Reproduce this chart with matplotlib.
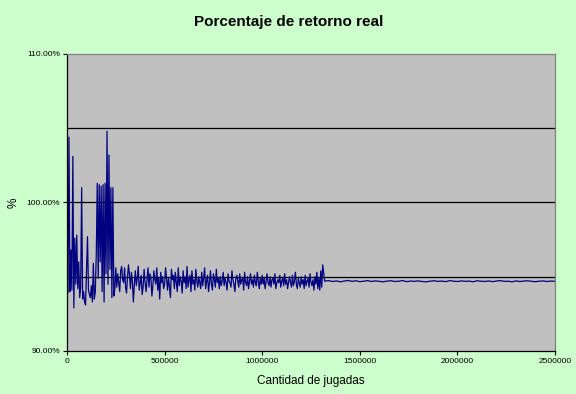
import numpy as np
import matplotlib
matplotlib.use("Agg")
import matplotlib.pyplot as plt
from matplotlib.ticker import FuncFormatter

plt.rcParams['font.family'] = ['Liberation Sans', 'DejaVu Sans']

# Early part: every 5000 plays from 0
early_start, early_step = 0, 5000
early_vals = [98.9, 93.9, 104.4, 94.0, 96.8, 94.1, 103.1, 92.9, 97.6, 94.5,
              97.8, 94.2, 96.0, 93.6, 94.3, 101.0, 93.5, 94.0, 93.3, 93.1,
              95.3, 97.7, 94.1, 93.8, 93.6, 94.4, 93.3, 95.9, 93.5, 94.0,
              96.5, 101.3, 94.9, 101.2, 96.0, 101.1, 94.0, 101.2, 93.3, 101.3,
              95.2, 104.8, 94.5, 103.2, 95.5, 101.0, 93.6, 101.0, 93.7, 94.2,
              95.6, 94.3]

# Middle part: every 5000 plays from 260000
mid_start, mid_step = 260000, 5000
mid_vals = [95.2, 94.6, 94.0, 95.4, 95.7, 94.8, 94.6, 95.6, 94.3, 93.9,
            95.0, 95.8, 95.1, 94.2, 95.3, 94.7, 93.3, 94.5, 95.4, 94.4,
            94.9, 95.7, 94.1, 94.6, 95.1, 93.8, 94.3, 95.5, 94.6, 94.0,
            94.8, 95.6, 94.3, 95.2, 94.9, 93.7, 94.4, 95.4, 94.8, 94.5,
            95.6, 94.1, 94.9, 93.5, 95.3, 94.6, 95.0, 94.2,
            94.5, 95.6, 94.9, 94.1, 94.9, 94.3, 93.6, 95.5, 94.8, 95.1,
            94.2, 95.3, 94.6, 94.0, 95.6, 94.4, 95.0, 94.7, 93.9, 95.4,
            94.6, 95.0, 94.2, 95.7, 94.3, 94.8, 95.1, 94.0, 95.4, 94.5,
            94.8, 94.1, 95.5, 94.7, 94.3, 95.0, 94.6, 94.2, 95.3, 94.4,
            94.9, 95.6, 94.2, 94.7, 95.1, 94.0, 94.6, 95.4, 94.5, 94.1,
            95.2, 94.8, 94.3, 95.5, 94.6, 94.9, 94.2, 95.0, 94.4, 94.7,
            95.3, 94.4, 94.9, 94.6, 94.1, 95.2, 94.7, 94.6, 94.3, 95.4,
            94.8, 94.5, 94.0, 94.9, 95.1, 94.7, 94.3, 95.2, 94.5, 94.8,
            94.9, 94.1, 95.3, 94.6, 94.4, 95.0, 94.2, 94.7, 95.2, 94.5,
            94.8, 94.3, 95.1, 94.6, 94.4, 95.3, 94.7, 94.2, 94.9, 94.5,
            95.1, 94.5, 94.9, 94.2, 94.7, 95.2, 94.6, 94.4, 95.0, 94.3,
            94.8, 94.9, 94.5, 95.2, 94.2, 94.6, 94.8, 94.6, 95.1, 94.3,
            94.7, 94.9, 94.4, 95.2, 94.5, 94.8, 94.2, 94.6, 95.0, 94.6,
            94.3, 95.1, 94.4, 94.7, 95.3, 94.5, 94.2, 94.9, 94.6, 94.3,
            95.0, 94.5, 94.8, 94.2, 95.1, 94.4, 94.7, 94.9, 94.3, 95.2,
            94.6, 94.4, 94.8, 94.1, 95.0, 94.5, 95.3, 94.2, 94.9, 94.1,
            95.4, 94.3, 95.8]

# Late part: every 20000 plays from 1320000
late_start, late_step = 1320000, 20000
late_vals = [94.70, 94.74, 94.68, 94.72, 94.66, 94.71, 94.75, 94.69, 94.73, 94.67,
             94.70, 94.74, 94.68, 94.72, 94.69, 94.66, 94.71, 94.73, 94.68, 94.70,
             94.74, 94.67, 94.71, 94.69, 94.72, 94.68, 94.66, 94.70, 94.73, 94.69,
             94.71, 94.67, 94.74, 94.70, 94.68, 94.72, 94.69, 94.71, 94.66, 94.73,
             94.70, 94.68, 94.72, 94.67, 94.71, 94.74, 94.69, 94.70, 94.66, 94.72,
             94.68, 94.71, 94.73, 94.69, 94.67, 94.70, 94.72, 94.68, 94.71, 94.69]

x_ticks = [0, 500000, 1000000, 1500000, 2000000, 2500000]
y_ticks = [90, 100, 110]
grid_levels = [95, 100, 105]

title = "Porcentaje de retorno real"
xlabel = "Cantidad de jugadas"
ylabel = "%"

x = np.concatenate([
    early_start + early_step * np.arange(len(early_vals)),
    mid_start + mid_step * np.arange(len(mid_vals)),
    late_start + late_step * np.arange(len(late_vals)),
])
y = np.concatenate([early_vals, mid_vals, late_vals])

fig = plt.figure(figsize=(5.76, 3.94), dpi=100)
fig.patch.set_facecolor('#CCFFCC')
ax = fig.add_axes([67/576, 1 - 351/394, (555-67)/576, (351-54)/394])
ax.set_facecolor('#C0C0C0')

for g in grid_levels:
    ax.axhline(g, color='black', lw=0.9, zorder=1)

ax.plot(x, y, color='#000080', lw=0.9, zorder=2)

ax.set_xlim(0, 2500000)
ax.set_ylim(90, 110)
ax.set_xticks(x_ticks)
ax.set_xticklabels([str(t) for t in x_ticks])
ax.set_yticks(y_ticks)
ax.yaxis.set_major_formatter(FuncFormatter(lambda v, p: f"{v:.2f}%"))
ax.tick_params(axis='both', direction='out', length=3, width=0.8,
               labelsize=6, colors='black', pad=2)

for s in ['left', 'bottom']:
    ax.spines[s].set_color('black')
    ax.spines[s].set_linewidth(0.9)
for s in ['top', 'right']:
    ax.spines[s].set_color('#808080')
    ax.spines[s].set_linewidth(0.9)

fig.text(288.5/576, 1 - 22/394, title, ha='center', va='center',
         fontsize=11, fontweight='bold')
fig.text(311/576, 1 - 381/394, xlabel, ha='center', va='center', fontsize=8.5)
fig.text(14/576, 1 - 203/394, ylabel, ha='center', va='center', fontsize=8.5,
         rotation=90)

fig.savefig('out.png', dpi=100, facecolor=fig.get_facecolor())
